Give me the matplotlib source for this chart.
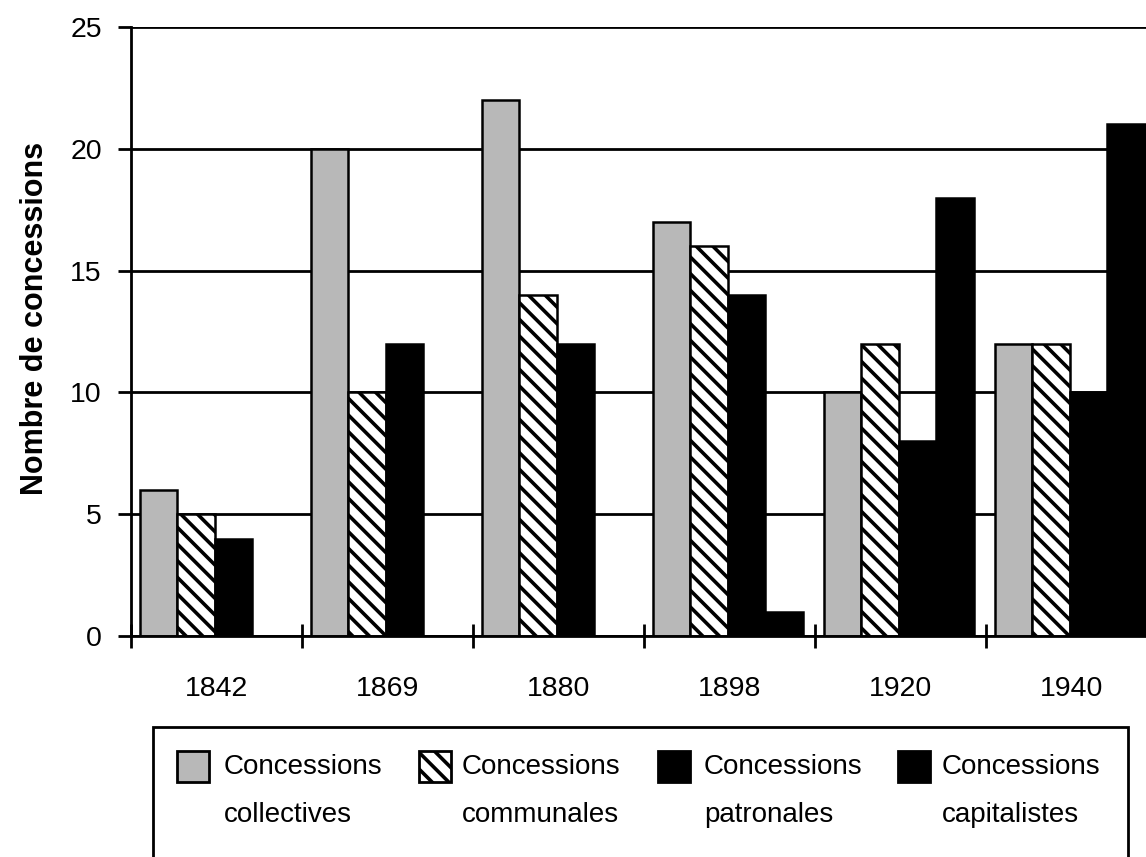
import matplotlib
matplotlib.use('Agg')
import matplotlib.pyplot as plt
from matplotlib.patches import Rectangle
import numpy as np

plt.rcParams['font.family'] = ['Liberation Sans', 'DejaVu Sans']
plt.rcParams['hatch.linewidth'] = 2.6

# data
years = ['1842', '1869', '1880', '1898', '1920', '1940']
collectives = [6, 20, 22, 17, 10, 12]
communales = [5, 10, 14, 16, 12, 12]
patronales = [4, 12, 12, 14, 8, 10]
capitalistes = [0, 0, 0, 1, 18, 21]
y_ticks = [0, 5, 10, 15, 20, 25]
labels = ['Concessions\ncollectives', 'Concessions\ncommunales',
          'Concessions\npatronales', 'Concessions\ncapitalistes']

styles = [dict(facecolor='#b8b8b8', hatch=None),
          dict(facecolor='white', hatch='\\\\'),
          dict(facecolor='black', hatch=None),
          dict(facecolor='black', hatch=None)]

W, H = 1146, 857
def fx(px):
    return px / W
def fy(py):
    return 1 - py / H

fig = plt.figure(figsize=(W / 100, H / 100), dpi=100)
ax = fig.add_axes([fx(131), fy(636), 1026 / W, 609 / H])

x = np.arange(len(years))
bw = 0.22
for k, vals in enumerate([collectives, communales, patronales, capitalistes]):
    ax.bar(x + 0.05 + k * bw, vals, width=bw, align='edge',
           edgecolor='black', linewidth=1.8, zorder=2, **styles[k])

ax.set_xlim(0, len(years))
ax.set_ylim(0, 25)
ax.set_yticks(y_ticks)
ax.set_yticklabels([str(t) for t in y_ticks])
ax.yaxis.grid(True, color='black', linewidth=2.0)
ax.set_axisbelow(True)

ax.set_xticks(x)
ax.set_xticks(x + 0.5, years, minor=True)
ax.tick_params(axis='x', which='major', direction='inout', length=17,
               width=2.0, labelbottom=False)
ax.tick_params(axis='x', which='minor', length=0, pad=29, labelsize=20.5)
ax.tick_params(axis='y', direction='out', length=9.5, width=2.0,
               pad=11.5, labelsize=20.5)

for s in ['top', 'right']:
    ax.spines[s].set_visible(False)
for s in ['left', 'bottom']:
    ax.spines[s].set_linewidth(2.0)

ax.set_ylabel('Nombre de concessions', fontsize=22, fontweight='bold')
ax.yaxis.set_label_coords(-0.079, 0.522)

# legend box drawn by hand (marker aligned with first line of label)
fig.add_artist(Rectangle((fx(153), fy(890)), fx(1128) - fx(153), fy(727) - fy(890),
                         transform=fig.transFigure, fill=False,
                         edgecolor='black', linewidth=2.0))
marker_x = [177, 419, 658, 898]
text_x = [224, 462, 704, 942]
for k in range(4):
    fig.add_artist(Rectangle((fx(marker_x[k]), fy(782)), 32 / W, 31 / H,
                             transform=fig.transFigure, edgecolor='black',
                             linewidth=2, **styles[k]))
    fig.text(fx(text_x[k]), fy(822), labels[k], fontsize=20,
             va='baseline', ha='left', linespacing=2.08)

fig.savefig('out.png', dpi=100)
